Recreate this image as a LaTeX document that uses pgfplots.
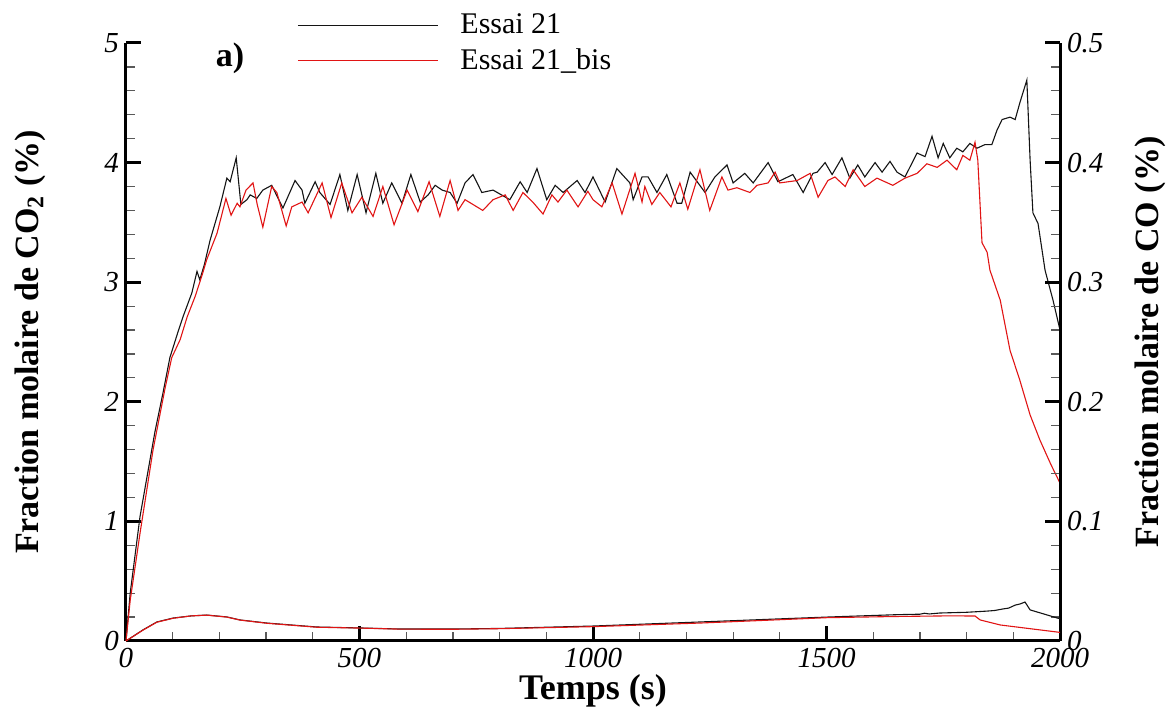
\documentclass[border=0pt]{standalone}
\usepackage{fontspec}
\setmainfont{Liberation Serif}
\usepackage{pgfplots}
\pgfplotsset{compat=1.18}
\definecolor{cred}{RGB}{225,20,20}
\definecolor{cblack}{RGB}{20,20,20}
\begin{document}
\begin{tikzpicture}
\pgfplotsset{
  common/.style={width=467pt,height=299pt,scale only axis,xmin=0,xmax=2000,
    tick label style={font=\fontsize{14.5}{16}\selectfont\itshape},
    /pgf/number format/assume math mode=true,
    /pgf/number format/set thousands separator={},
    major tick length=7.5pt, minor tick length=4.5pt,
    major tick style={line width=1.5pt,black},
    minor tick style={line width=0.6pt,black!65},
    axis line style={line width=1.5pt},
    tick align=inside,
    clip=false,
  }
}
\begin{axis}[common, ymin=0, ymax=5,
  axis x line*=bottom, axis y line*=left,
  xtick distance=500, minor x tick num=4,
  ytick distance=1, minor y tick num=4,
  xlabel={Temps (s)},
  ylabel={Fraction molaire de CO\textsubscript{2} (\%)},
  every axis x label/.style={at={(axis description cs:0.5,0)}, yshift=-25pt, anchor=center, font=\fontsize{18}{20}\selectfont\bfseries},
  every axis y label/.style={at={(axis description cs:0,0.5)}, xshift=-48pt, rotate=90, anchor=center, font=\fontsize{17}{20}\selectfont\bfseries},
  legend style={draw=none, fill=none, at={(axis description cs:0.183,1)}, anchor=west,
    font=\fontsize{15}{17}\selectfont, inner sep=0pt, row sep=2pt},
  legend cell align=left,
  legend image code/.code={\draw[#1] (0pt,0pt) -- (70pt,0pt); \path (79pt,0pt);},
]
\addplot[cblack, line width=0.55pt] coordinates {
(0,0) (9,0.40) (30,1.04) (62,1.75) (79,2.07) (94,2.37) (111,2.58) (122,2.71) (141,2.91) (152,3.09) (158,3.02) (168,3.15) (180,3.35) (201,3.63) (216,3.87) (223,3.84) (236,4.04) (246,3.65) (259,3.69) (266,3.73) (280,3.70) (293,3.77) (312,3.81) (336,3.62) (362,3.85) (377,3.77) (383,3.66) (405,3.84) (415,3.75) (437,3.65) (458,3.90) (475,3.60) (495,3.90) (514,3.58) (535,3.91) (550,3.66) (569,3.83) (591,3.66) (610,3.90) (630,3.67) (647,3.73) (662,3.81) (677,3.77) (694,3.75) (709,3.66) (726,3.83) (743,3.90) (762,3.75) (786,3.77) (822,3.69) (844,3.84) (859,3.75) (880,3.95) (901,3.69) (919,3.81) (936,3.75) (966,3.85) (983,3.75) (1000,3.88) (1026,3.67) (1051,3.95) (1079,3.83) (1086,3.69) (1105,3.88) (1118,3.88) (1137,3.75) (1158,3.90) (1180,3.66) (1190,3.66) (1208,3.92) (1240,3.75) (1261,3.88) (1287,3.98) (1300,3.83) (1325,3.91) (1343,3.83) (1375,4.00) (1396,3.84) (1428,3.90) (1450,3.75) (1471,3.91) (1480,3.92) (1497,4.00) (1512,3.90) (1533,4.04) (1550,3.87) (1567,3.98) (1582,3.88) (1604,4.00) (1619,3.92) (1636,4.01) (1651,3.92) (1668,3.88) (1694,4.08) (1711,4.05) (1726,4.22) (1739,4.04) (1750,4.16) (1764,4.04) (1779,4.12) (1792,4.09) (1807,4.16) (1822,4.12) (1839,4.15) (1854,4.15) (1865,4.27) (1876,4.36) (1893,4.38) (1904,4.36) (1914,4.50) (1929,4.69) (1936,4.02) (1942,3.58) (1953,3.49) (1968,3.10) (1985,2.85) (2000,2.60)
};
\addlegendentry{Essai 21}
\addplot[cred, line width=0.55pt] coordinates {
(0,0) (9,0.34) (30,0.90) (58,1.60) (84,2.12) (98,2.37) (116,2.52) (131,2.71) (148,2.88) (163,3.06) (173,3.19) (195,3.41) (214,3.70) (225,3.56) (238,3.66) (244,3.63) (257,3.77) (272,3.83) (281,3.65) (293,3.46) (312,3.80) (323,3.75) (343,3.47) (355,3.63) (377,3.67) (390,3.58) (420,3.83) (439,3.54) (462,3.83) (484,3.58) (505,3.71) (529,3.55) (550,3.80) (574,3.48) (602,3.77) (625,3.59) (649,3.84) (672,3.55) (694,3.85) (711,3.60) (726,3.69) (764,3.60) (786,3.69) (812,3.73) (829,3.60) (850,3.75) (871,3.67) (893,3.57) (912,3.73) (925,3.67) (944,3.77) (968,3.63) (989,3.76) (1000,3.69) (1019,3.63) (1041,3.83) (1062,3.57) (1090,3.91) (1105,3.67) (1111,3.80) (1126,3.65) (1143,3.75) (1167,3.63) (1186,3.83) (1203,3.61) (1229,3.94) (1250,3.60) (1276,3.88) (1289,3.77) (1308,3.79) (1336,3.75) (1351,3.81) (1375,3.83) (1390,3.92) (1400,3.83) (1437,3.85) (1465,3.91) (1482,3.71) (1503,3.85) (1518,3.88) (1540,3.80) (1557,3.94) (1582,3.80) (1608,3.87) (1642,3.81) (1668,3.87) (1694,3.91) (1715,3.99) (1737,3.96) (1758,4.02) (1779,3.94) (1792,4.06) (1807,4.02) (1818,4.17) (1824,4.02) (1833,3.33) (1844,3.25) (1850,3.10) (1872,2.85) (1893,2.43) (1914,2.18) (1936,1.89) (1957,1.68) (1980,1.48) (2000,1.32)
};
\addlegendentry{Essai 21\_bis}
\node[font=\fontsize{17}{20}\selectfont\bfseries] at (axis cs:223,4.87) {a)};
\path (axis description cs:0,0) ++(-63pt,-37.5pt);
\path (axis description cs:1,1) ++(56.5pt,21.5pt);
\end{axis}
\begin{axis}[common, ymin=0, ymax=0.5,
  axis y line*=right, axis x line=none,
  ytick distance=0.1, minor y tick num=4,
  yticklabel style={/pgf/number format/fixed},
  ylabel={Fraction molaire de CO (\%)},
  every axis y label/.style={at={(axis description cs:1,0.5)}, xshift=45pt, rotate=90, anchor=center, font=\fontsize{17}{20}\selectfont\bfseries},
]
\addplot[cblack, line width=0.55pt] coordinates {
(0,0) (36,0.0092) (66,0.0159) (101,0.0192) (140,0.0210) (173,0.0217) (216,0.0201) (244,0.0176) (302,0.0150) (409,0.0117) (501,0.0109) (587,0.0100) (700,0.0100) (800,0.0105) (1000,0.0125) (1229,0.0159) (1400,0.0185) (1501,0.0200) (1650,0.0220) (1700,0.0224) (1710,0.0232) (1720,0.0226) (1743,0.0234) (1800,0.0240) (1844,0.0250) (1860,0.0255) (1878,0.0268) (1890,0.0275) (1904,0.0300) (1915,0.0310) (1925,0.0326) (1936,0.0260) (1996,0.0190) (2000,0.0190)
};
\addplot[cred, line width=0.55pt] coordinates {
(0,0) (36,0.0090) (66,0.0157) (101,0.0190) (140,0.0210) (173,0.0216) (216,0.0200) (244,0.0175) (302,0.0148) (409,0.0115) (501,0.0108) (587,0.0099) (700,0.0098) (800,0.0103) (1000,0.0120) (1229,0.0150) (1400,0.0178) (1501,0.0195) (1650,0.0205) (1760,0.0210) (1818,0.0209) (1829,0.0176) (1872,0.0134) (1942,0.0100) (2000,0.0072)
};
\end{axis}
\end{tikzpicture}
\end{document}
